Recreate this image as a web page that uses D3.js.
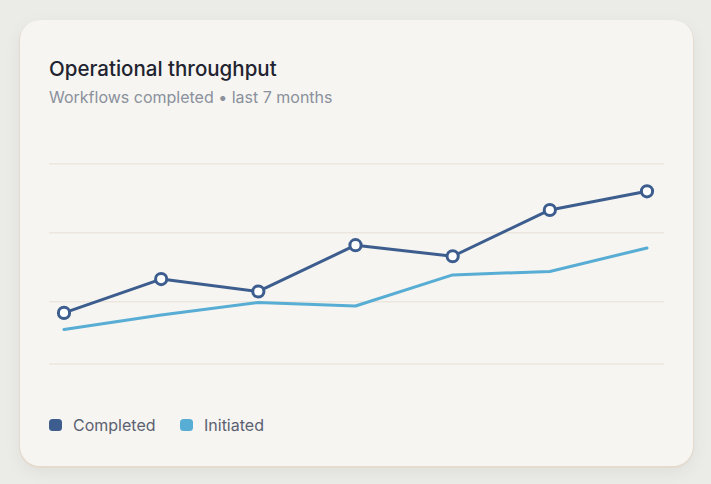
<!DOCTYPE html>
<html>
<head>
<meta charset="utf-8">
<script src="https://cdn.jsdelivr.net/npm/d3@7"></script>
<style>
  html, body { margin: 0; padding: 0; }
  body { width: 711px; height: 484px; background: #ebebe8; overflow: hidden; }
  .card {
    position: absolute; left: 20px; top: 20px; width: 673px; height: 446px;
    background: #f6f5f1; border-radius: 20px;
    box-shadow: 0 1px 0 1px #e4dacd, 0 6px 18px rgba(0,0,0,0.06);
  }
  svg { position: absolute; left: 0; top: 0; }
</style>
</head>
<body>
<div class="card"></div>
<svg id="chart" width="711" height="484"></svg>
<script>
const months = ['Jan', 'Feb', 'Mar', 'Apr', 'May', 'Jun', 'Jul']
const completed = [184, 233, 215, 282, 266, 333, 360]
const initiated = [160, 181, 199, 194, 239, 244, 278]
const gridTicks = [110, 200, 300, 400]

const series = [
  { name: 'Completed', values: completed, color: '#3c5d8e', markers: true },
  { name: 'Initiated', values: initiated, color: '#58add4', markers: false }
]

const svg = d3.select('#chart')
const font = 'Inter, "Noto Sans", sans-serif'

svg.append('text')
  .attr('x', 49).attr('y', 76)
  .attr('font-family', font).attr('font-size', 20.5).attr('font-weight', 500)
  .attr('fill', '#1f2430')
  .text('Operational throughput')

svg.append('text')
  .attr('x', 49).attr('y', 103)
  .attr('font-family', font).attr('font-size', 16)
  .attr('fill', '#8a909c')
  .text('Workflows completed • last 7 months')

const x = d3.scalePoint().domain(months).range([64, 647])
const y = d3.scaleLinear().domain([110, 400]).range([364, 163.7])

// grid
svg.append('g')
  .selectAll('line')
  .data(gridTicks)
  .join('line')
  .attr('x1', 49).attr('x2', 664)
  .attr('y1', d => y(d)).attr('y2', d => y(d))
  .attr('stroke', '#ece6de').attr('stroke-width', 1.5)

const line = d3.line()
  .x((d, i) => x(months[i]))
  .y(d => y(d))

// draw Initiated under Completed
series.slice().reverse().forEach(s => {
  svg.append('path')
    .datum(s.values)
    .attr('d', line)
    .attr('fill', 'none')
    .attr('stroke', s.color)
    .attr('stroke-width', 3)
    .attr('stroke-linejoin', 'round')
    .attr('stroke-linecap', 'round')
  if (s.markers) {
    svg.append('g')
      .selectAll('circle')
      .data(s.values)
      .join('circle')
      .attr('cx', (d, i) => x(months[i]))
      .attr('cy', d => y(d))
      .attr('r', 5.6)
      .attr('fill', '#ffffff')
      .attr('stroke', s.color)
      .attr('stroke-width', 3)
  }
})

// legend
const legendX = [49, 180]
const legend = svg.append('g')
  .selectAll('g')
  .data(series)
  .join('g')
  .attr('transform', (d, i) => `translate(${legendX[i]}, 419)`)
legend.append('rect')
  .attr('width', 13).attr('height', 12).attr('rx', 3.5)
  .attr('fill', d => d.color)
legend.append('text')
  .attr('x', 24).attr('y', 11.5)
  .attr('font-family', font).attr('font-size', 16)
  .attr('fill', '#5b6171')
  .text(d => d.name)
</script>
</body>
</html>
